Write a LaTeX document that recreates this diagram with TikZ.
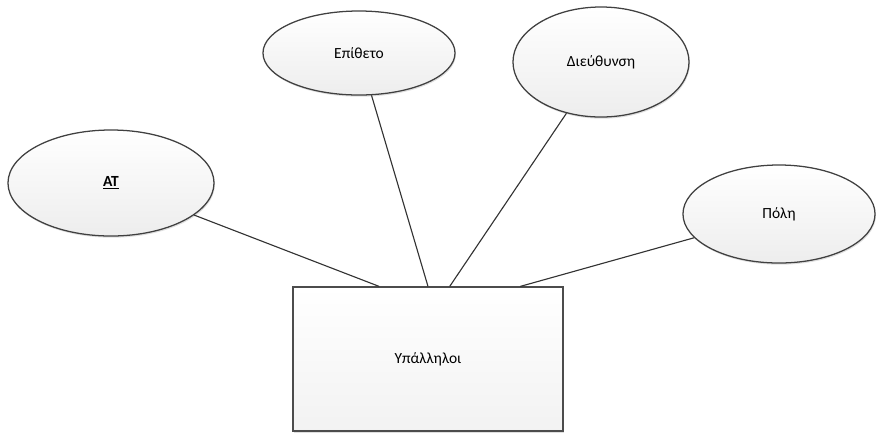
\documentclass[tikz,border=0pt]{standalone}
\usepackage{fontspec}
\setmainfont{Carlito}
\usetikzlibrary{shapes.geometric, shadows, calc}

\tikzset{
    attr/.style={ellipse, draw=black!75, line width=0.9pt, inner sep=0pt,
        top color=white, bottom color=gray!14,
        drop shadow={opacity=0.25, shadow xshift=0.6pt, shadow yshift=-1.2pt},
        font=\fontsize{11}{13}\selectfont},
    entity/.style={rectangle, draw=black!70, line width=0.8pt, inner sep=0pt,
        minimum width=6.75cm, minimum height=3.6cm,
        top color=white, bottom color=gray!10,
        drop shadow={opacity=0.25, shadow xshift=0.6pt, shadow yshift=-1.2pt},
        font=\fontsize{11}{13}\selectfont},
    link/.style={draw=black!80, line width=0.8pt}
}

\begin{document}
\begin{tikzpicture}[x=0.025cm, y=-0.025cm]
    \useasboundingbox (0,0) rectangle (880,437);

    % Entity
    \node[entity] (emp) at (428,359) {Υπάλληλοι};

    % Attributes
    \node[attr, minimum width=5.15cm, minimum height=2.65cm] (at) at (111,183) {\underline{\textbf{ΑΤ}}};
    \node[attr, minimum width=4.8cm, minimum height=2.1cm] (surname) at (359,53) {Επίθετο};
    \node[attr, minimum width=4.4cm, minimum height=2.75cm] (address) at (601,62) {Διεύθυνση};
    \node[attr, minimum width=4.8cm, minimum height=2.45cm] (city) at (779,214) {Πόλη};

    % Connectors
    \draw[link] (at) -- ($(emp.north west)!0.32!(emp.north east)$);
    \draw[link] (surname) -- ($(emp.north west)!0.5!(emp.north east)$);
    \draw[link] (address) -- ($(emp.north west)!0.58!(emp.north east)$);
    \draw[link] (city) -- ($(emp.north west)!0.84!(emp.north east)$);
\end{tikzpicture}
\end{document}
